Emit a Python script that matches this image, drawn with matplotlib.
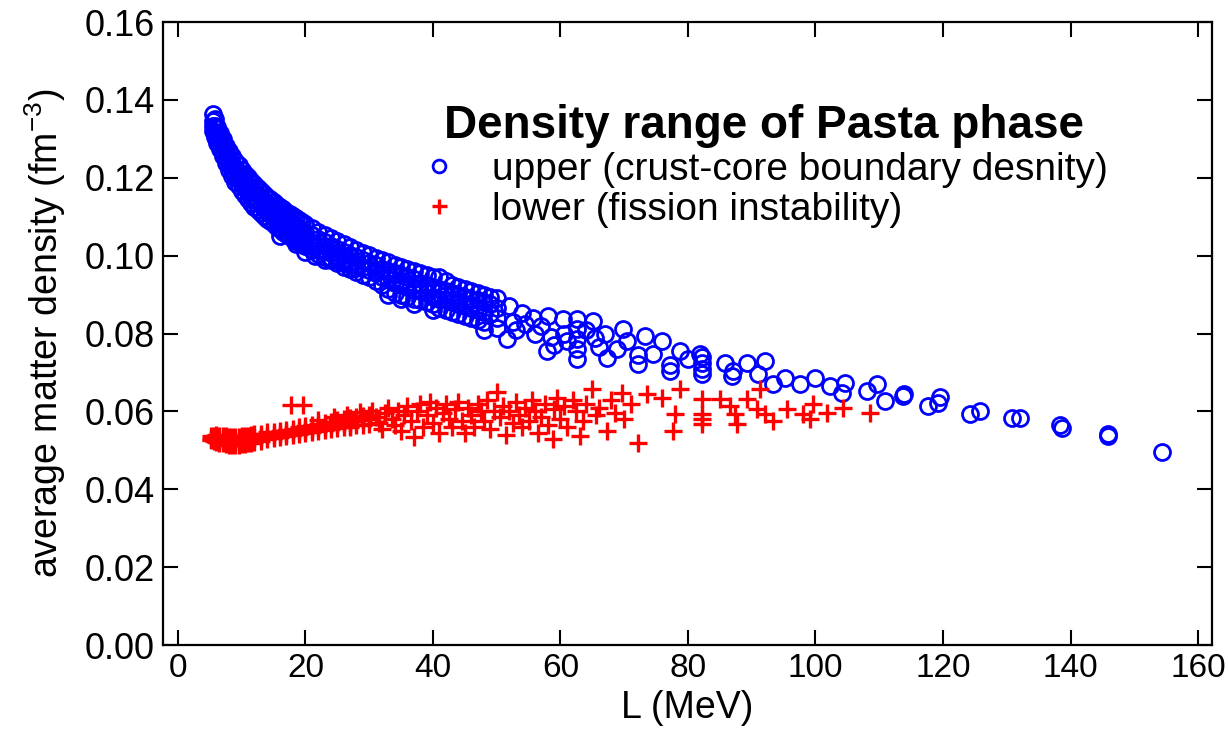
import numpy as np
import matplotlib
matplotlib.use("Agg")
import matplotlib.pyplot as plt

# ---- upper (crust-core boundary density): dense band, L = 5.5 .. 30 MeV, four rows
band_L = [5.5, 5.8, 6.2, 6.6, 7.0, 7.5, 8.0, 8.5, 9.0, 9.5, 10, 10.5, 11, 11.5, 12,
          12.5, 13, 13.5, 14, 14.5, 15, 15.5, 16, 16.5, 17, 17.5, 18, 18.5, 19, 19.5,
          20, 21, 22, 23, 24, 25, 26, 27, 28, 29, 30]
band_top = [.1365, .1350, .1330, .1315, .1300, .1283, .1268, .1255, .1243, .1232, .1221,
            .1211, .1201, .1192, .1183, .1175, .1167, .1159, .1152, .1145, .1138, .1131,
            .1125, .1119, .1113, .1107, .1101, .1096, .1091, .1086, .1081, .1071, .1062,
            .1053, .1045, .1037, .1029, .1022, .1015, .1008, .1001]
band_m1 = [.1345, .1333, .1316, .1301, .1286, .1268, .1252, .1238, .1225, .1213, .1202,
           .1192, .1182, .1173, .1164, .1156, .1148, .1140, .1133, .1126, .1119, .1112,
           .1106, .1100, .1094, .1088, .1082, .1077, .1072, .1067, .1062, .1052, .1043,
           .1034, .1026, .1018, .1010, .1003, .0996, .0989, .0982]
band_m2 = [.1332, .1318, .1302, .1287, .1270, .1252, .1236, .1221, .1207, .1195, .1184,
           .1173, .1163, .1154, .1145, .1137, .1129, .1121, .1114, .1107, .1100, .1093,
           .1087, .1081, .1075, .1069, .1063, .1058, .1053, .1048, .1043, .1033, .1024,
           .1015, .1007, .0999, .0991, .0984, .0977, .0970, .0963]
band_bot = [.1320, .1305, .1290, .1274, .1256, .1237, .1220, .1205, .1190, .1178, .1166,
            .1155, .1145, .1135, .1126, .1118, .1110, .1102, .1095, .1088, .1081, .1074,
            .1068, .1062, .1056, .1050, .1044, .1039, .1034, .1029, .1024, .1014, .1005,
            .0996, .0988, .0980, .0972, .0965, .0958, .0951, .0944]

# ---- upper: scattered points, L = 16 .. 155 MeV
upper_L = [16, 18.5, 20, 21.5, 23, 17, 19, 21, 24, 26, 28, 22.5, 25, 27,
           31, 31, 31, 31, 32, 32, 32, 32, 33, 33, 33, 33, 33, 34, 34, 34, 34,
           35, 35, 35, 35, 35, 36, 36, 36, 36, 37, 37, 37, 37, 37, 38, 38, 38, 38,
           39, 39, 39, 39, 40, 40, 40, 40, 40, 41, 41, 41, 41, 42, 42, 42, 42,
           43, 43, 43, 43, 44, 44, 44, 44, 45, 45, 45, 45, 46, 46, 46, 46,
           47, 47, 47, 47, 48, 48, 48, 48, 48, 49, 49, 49, 50, 50, 50, 50,
           51.6, 52, 52.5, 53, 54, 54.5, 55.7, 56, 57, 58, 57.9, 58.5, 59, 60.4, 60.5,
           61, 62.6, 62.6, 62.6, 62.6, 62.6, 64, 65.1, 65.4, 66, 67.3, 67, 68.9, 69.8,
           70.5, 72.2, 72.2, 73.3, 74.5, 75.9, 77.2, 77.2, 78.7, 80, 81.9, 82.2, 82.2,
           82.2, 82.2, 85.8, 86.9, 87, 89.3, 91, 92.1, 93.3, 95.2, 97.6, 99.9, 102.3,
           104.6, 104.2, 108.1, 109.6, 110.9,
           113.7, 113.9, 117.6, 119.5, 119.2, 124.2, 125.8, 130.8, 132.1, 138.7, 138.4,
           145.9, 145.9, 154.4]
upper_d = [.1050, .1030, .1010, .0998, .0988, .1070, .1045, .1025, .0995, .0980, .0968,
           .1012, .0990, .0975,
           .0995, .0975, .0955, .0935, .0990, .0965, .0945, .0925, .0985, .0960, .0940,
           .0915, .0900, .0975, .0955, .0930, .0905,
           .0970, .0950, .0925, .0900, .0890, .0965, .0945, .0920, .0895, .0960, .0940,
           .0915, .0890, .0875, .0955, .0930, .0910, .0885,
           .0950, .0925, .0905, .0880, .0945, .0920, .0895, .0875, .0860, .0945, .0915,
           .0890, .0865, .0935, .0910, .0885, .0860,
           .0925, .0905, .0880, .0855, .0920, .0900, .0875, .0850, .0915, .0895, .0870,
           .0845, .0910, .0890, .0865, .0840,
           .0905, .0885, .0860, .0835, .0900, .0880, .0855, .0830, .0810, .0895, .0875,
           .0850, .0892, .0865, .0840, .0815,
           .0786, .0870, .0830, .0810, .0853, .0825, .0840, .0800, .0820, .0845, .0755,
           .0790, .0770, .0837, .0800,
           .0780, .0837, .0812, .0786, .0760, .0734, .0810, .0832, .0788, .0765, .0737,
           .0800, .0760, .0812,
           .0780, .0721, .0745, .0794, .0747, .0781, .0703, .0720, .0755, .0735, .0747,
           .0696, .0710,
           .0725, .0740, .0724, .0690, .0705, .0724, .0696, .0729, .0670, .0685, .0670,
           .0685, .0665,
           .0672, .0647, .0652, .0670, .0626,
           .0640, .0645, .0613, .0636, .0621, .0593, .0600, .0582, .0582, .0557, .0564,
           .0536, .0541, .0497]

# ---- lower (fission instability): dense band, L = 5.2 .. 30 MeV, three rows
cross_L = [5.2, 5.6, 6, 6.5, 7, 7.5, 8, 8.5, 9, 9.5, 10, 10.5, 11, 11.5, 12, 13, 14,
           15, 16, 17, 18, 19, 20, 21, 22, 23, 24, 25, 26, 27, 28, 29, 30]
cross_top = [.0536, .0538, .0539, .0538, .0537, .0536, .0535, .0535, .0535, .0535, .0536,
             .0537, .0538, .0540, .0541, .0543, .0546, .0548, .0551, .0553, .0556, .0559,
             .0562, .0565, .0568, .0571, .0574, .0577, .0580, .0583, .0585, .0588, .0590]
cross_mid = [.0530, .0530, .0530, .0528, .0527, .0526, .0525, .0524, .0524, .0524, .0525,
             .0526, .0528, .0529, .0531, .0534, .0537, .0539, .0542, .0545, .0548, .0550,
             .0553, .0556, .0559, .0562, .0565, .0568, .0570, .0573, .0575, .0578, .0580]
cross_bot = [.0526, .0523, .0521, .0519, .0518, .0516, .0515, .0514, .0514, .0514, .0516,
             .0517, .0519, .0520, .0522, .0525, .0528, .0531, .0534, .0537, .0540, .0542,
             .0545, .0548, .0550, .0553, .0556, .0558, .0560, .0562, .0564, .0566, .0568]

# ---- lower: scattered points
lower_L = [17.8, 19.6, 22, 24.5, 26.5, 28.5, 27,
           30.5, 31, 31.5, 32, 32.5, 33, 33.5, 34, 34.5, 35, 35.5, 36, 36.5, 37, 37.5,
           38, 38.5, 39, 39.5, 40, 40.5, 41, 41.5, 42, 42.5, 43, 43.5, 44, 44.5, 45,
           45.5, 46, 46.5, 47, 47.5, 48, 48.5, 49, 49.5, 50, 50.5, 51, 51.5, 52, 52.5,
           53, 53.5, 54, 54.5, 55, 55.5, 56, 56.5, 57, 57.5, 58, 58.8, 59, 59.5, 60,
           60.5, 61, 62, 62.5, 63, 63.5, 64, 65, 65.5, 66, 67.3, 68, 68.5, 69.6, 70,
           71, 72.2,
           73.6, 75.9, 78.7, 78.0, 77.6, 82.2, 82.2, 82.2, 82.2, 85.0, 86.6, 87.4, 87.7,
           89.3, 91.3, 90.8, 92.1, 93.3, 95.5, 98.0, 99.1, 99.6, 101.8, 104.3, 108.5]
lower_d = [.0616, .0616, .0578, .0585, .0590, .0598, .0560,
           .0600, .0585, .0570, .0555, .0595, .0610, .0580, .0565, .0600, .0550, .0590,
           .0615, .0575, .0535, .0600,
           .0620, .0560, .0590, .0625, .0570, .0610, .0545, .0595, .0620, .0580, .0560,
           .0605, .0625, .0575, .0545,
           .0610, .0590, .0560, .0620, .0600, .0575, .0630, .0555, .0600, .0650, .0585,
           .0615, .0540, .0600, .0570,
           .0625, .0590, .0560, .0610, .0575, .0630, .0600, .0545, .0585, .0620, .0565,
           .0528, .0605, .0635, .0580,
           .0615, .0560, .0630, .0600, .0536, .0575, .0620, .0657, .0590, .0610, .0549,
           .0630, .0595, .0647, .0580,
           .0620, .0518,
           .0644, .0634, .0657, .0593, .0549, .0631, .0593, .0580, .0567, .0631, .0613,
           .0593, .0567,
           .0631, .0657, .0606, .0593, .0575, .0606, .0593, .0580, .0618, .0595, .0608,
           .0595]

x_ticks = [0, 20, 40, 60, 80, 100, 120, 140, 160]
y_ticks = [0.00, 0.02, 0.04, 0.06, 0.08, 0.10, 0.12, 0.14, 0.16]

BLUE = "#0000ff"
RED = "#ff0000"

up_L = np.concatenate([band_L] * 4 + [upper_L])
up_d = np.concatenate([band_top, band_m1, band_m2, band_bot, upper_d])
lo_L = np.concatenate([cross_L] * 3 + [lower_L])
lo_d = np.concatenate([cross_top, cross_mid, cross_bot, lower_d])

plt.rcParams["font.family"] = ["Liberation Sans", "DejaVu Sans"]
plt.rcParams["mathtext.default"] = "regular"

fig = plt.figure(figsize=(12.29, 7.36), dpi=100)
ax = fig.add_axes([0.1326, 0.1236, 0.8536, 0.8464])

ax.plot(up_L, up_d, "o", ls="none", mfc="none", mec=BLUE, ms=11.5, mew=2.0,
        label="upper (crust-core boundary desnity)")
ax.plot(lo_L, lo_d, "+", ls="none", color=RED, ms=13.5, mew=2.4,
        label="lower (fission instability)")

ax.set_xlim(-2.35, 162.2)
ax.set_ylim(0, 0.16)
ax.set_xticks(x_ticks)
ax.set_yticks(y_ticks)
ax.set_yticklabels(["%.2f" % v for v in y_ticks])
ax.tick_params(direction="in", length=11, width=1.5, top=True, right=True,
               pad=6, labelsize=26)
for lbl in ax.get_xticklabels():
    lbl.set_fontfamily(["Liberation Sans Narrow", "Liberation Sans"])
    lbl.set_fontsize(24)
for s in ax.spines.values():
    s.set_linewidth(1.6)

ax.set_xlabel("L (MeV)", fontsize=27, labelpad=4)
ax.set_ylabel("average matter density (fm$^{-3}$)", fontsize=27, labelpad=12)

leg = ax.legend(loc="upper left", bbox_to_anchor=(420 / 1229, 1 - 104 / 736),
                bbox_transform=fig.transFigure, frameon=False, fontsize=28,
                title="Density range of Pasta phase", markerscale=0.8,
                handlelength=1.0, handletextpad=0.85, labelspacing=0.1,
                borderpad=0, borderaxespad=0)
leg.get_title().set_fontsize(33)
leg.get_title().set_fontweight("bold")

fig.savefig("out.png", dpi=100)
